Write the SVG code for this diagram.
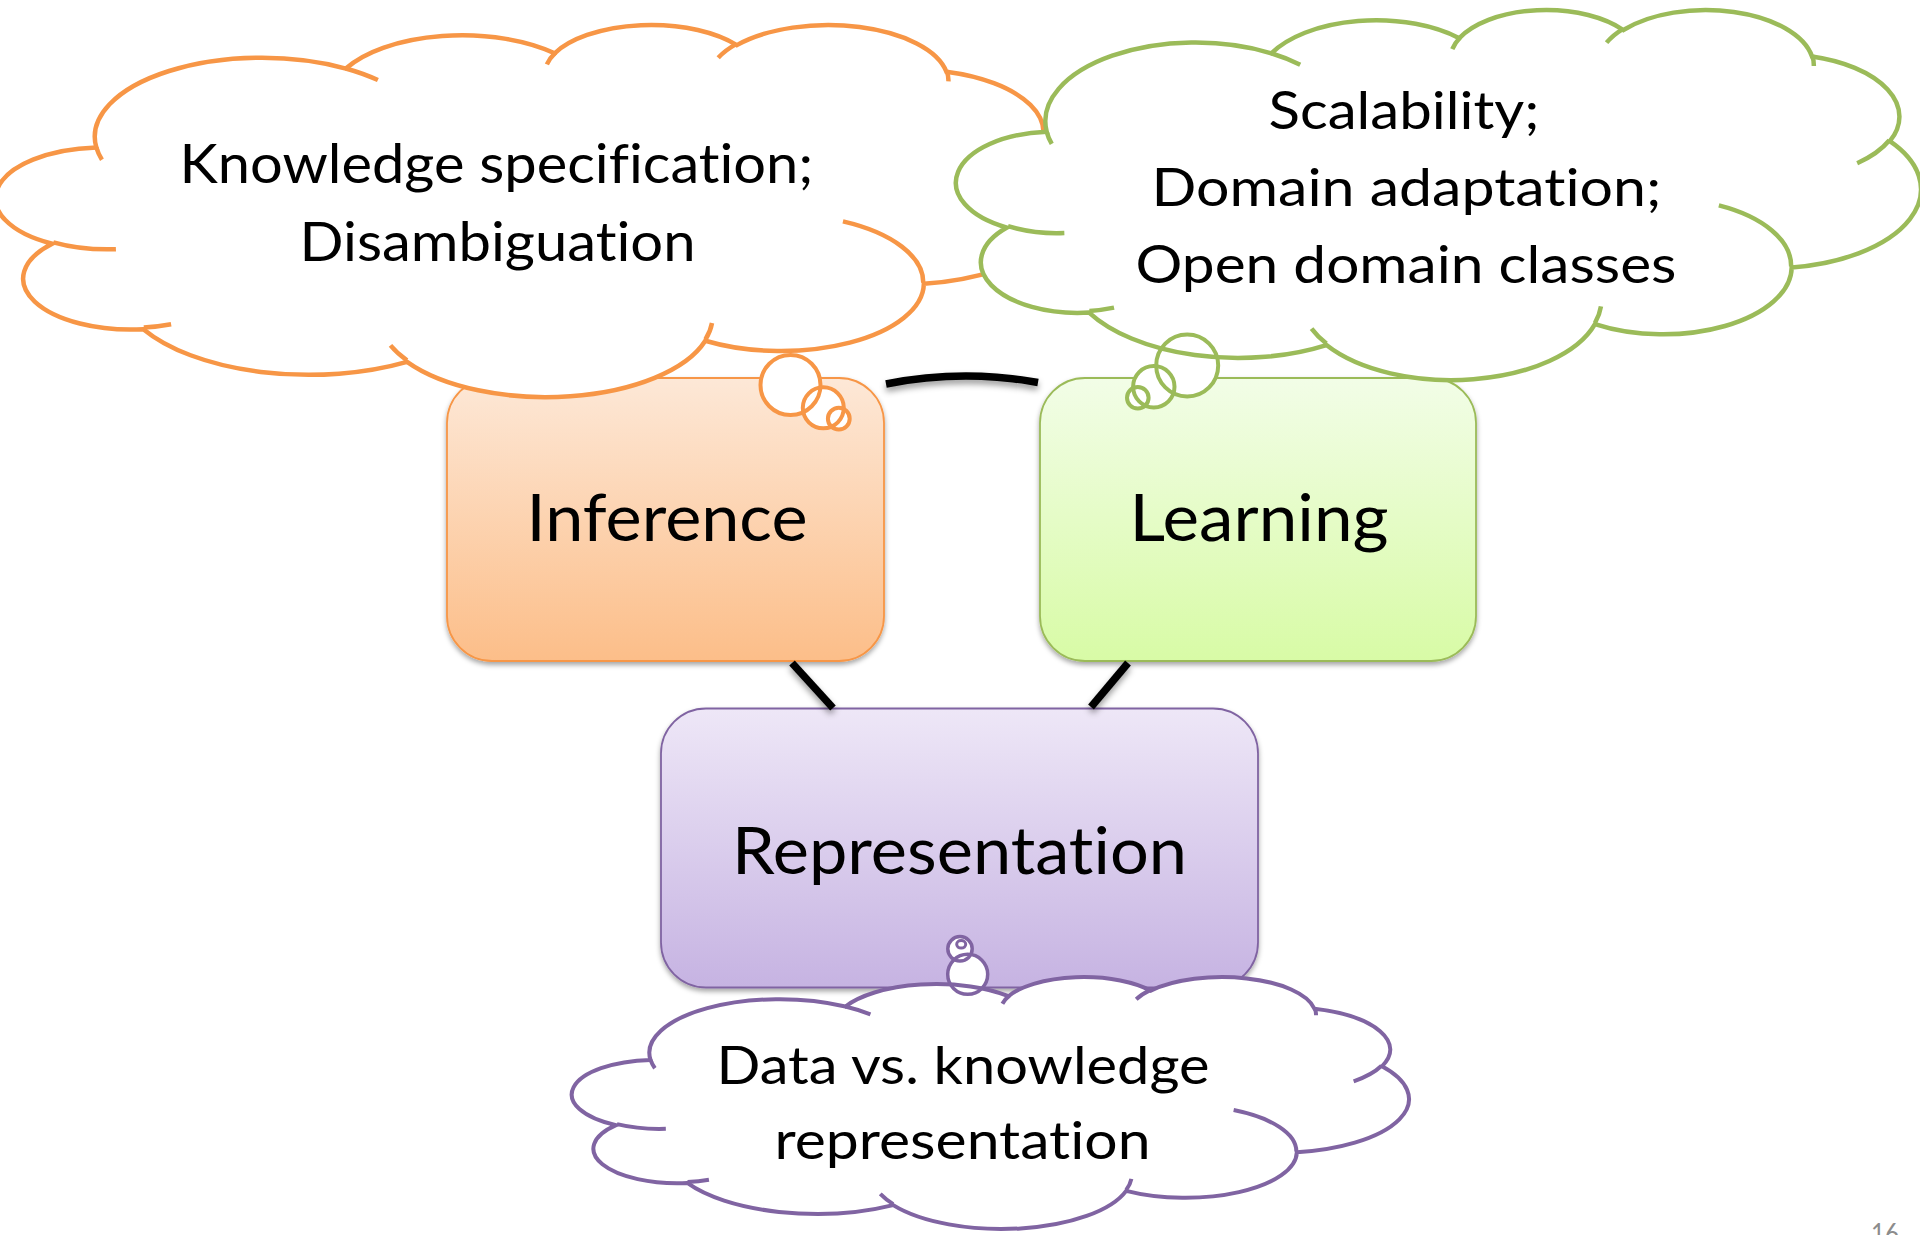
<svg xmlns="http://www.w3.org/2000/svg" xmlns:xlink="http://www.w3.org/1999/xlink" width="1920" height="1235" viewBox="0 0 1920 1235">
<defs>
<style>
.box{stroke-width:1.8}
.lbl{font-family:Lato,"Open Sans","Liberation Sans",sans-serif;font-weight:400;font-size:66px;fill:#000;text-anchor:middle;font-variant-ligatures:none}
.ctx{font-family:Lato,"Open Sans","Liberation Sans",sans-serif;font-weight:400;fill:#000;text-anchor:middle;font-variant-ligatures:none}
.conn{fill:none;stroke:#000;stroke-width:7.5;stroke-linecap:butt}
.cfill{fill:#fff;stroke:none}
.bfill{fill:#fff;stroke:none}
</style>
<linearGradient id="gInf" x1="0" y1="0" x2="0" y2="1"><stop offset="0" stop-color="#FDE8D7"/><stop offset="1" stop-color="#FCBE89"/></linearGradient>
<linearGradient id="gLrn" x1="0" y1="0" x2="0" y2="1"><stop offset="0" stop-color="#F2FDE7"/><stop offset="1" stop-color="#D8FBA6"/></linearGradient>
<linearGradient id="gRep" x1="0" y1="0" x2="0" y2="1"><stop offset="0" stop-color="#EEE7F7"/><stop offset="1" stop-color="#C6B3E2"/></linearGradient>
<filter id="shadow" x="-10%" y="-10%" width="120%" height="130%">
<feDropShadow dx="0" dy="3" stdDeviation="2.5" flood-color="#000" flood-opacity="0.35"/>
</filter>
<filter id="cshadow" x="-20%" y="-40%" width="140%" height="180%">
<feDropShadow dx="0" dy="4" stdDeviation="3" flood-color="#000" flood-opacity="0.4"/>
</filter>
<path id="cloudShape" vector-effect="non-scaling-stroke" d="M39.00,143.70 A67.53,91.90 0 0 1 140.05,52.02 A53.33,72.67 0 0 1 224.56,34.32 A43.65,59.45 0 0 1 298.33,24.81 A48.57,65.95 0 0 1 383.18,55.76 A53.33,72.73 0 0 1 418.18,154.60 A67.75,92.20 0 0 1 374.04,302.03 A57.85,78.67 0 0 1 285.56,368.14 A67.52,92.15 0 0 1 164.80,392.65 A77.20,105.43 0 0 1 58.05,354.70 A43.60,59.18 0 0 1 21.13,255.49 A43.45,59.45 0 0 1 39.00,143.70 Z"/>
<path id="cloudTails" vector-effect="non-scaling-stroke" d="M41.27,157.89 A67.53,91.90 0 0 1 39.00,143.70 M140.00,51.92 A67.53,91.90 0 0 1 153.00,65.40 M221.41,47.20 A43.65,59.45 0 0 1 225.00,33.30 M290.78,39.52 A48.57,65.95 0 0 1 298.20,23.40 M383.24,54.26 A48.57,65.95 0 0 1 384.00,66.90 M417.98,153.54 A53.33,72.73 0 0 1 403.50,180.30 M341.29,229.54 A57.85,78.67 0 0 1 373.80,300.90 M288.27,347.51 A67.52,92.15 0 0 1 285.60,366.60 M164.78,390.90 A67.52,92.15 0 0 1 158.10,373.50 M69.28,348.99 A43.60,59.18 0 0 1 58.20,352.80 M46.93,261.77 A43.45,59.45 0 0 1 21.60,253.80"/>
</defs>
<rect width="1920" height="1235" fill="#fff"/>

<g id="node-inference">
<rect class="box" x="447" y="378" width="437" height="283" rx="45" fill="url(#gInf)" stroke="#F79646" filter="url(#shadow)"/>
<text class="lbl" x="667" y="541" textLength="281" lengthAdjust="spacingAndGlyphs">Inference</text>
</g>
<g id="node-learning">
<rect class="box" x="1040" y="378" width="436" height="283" rx="45" fill="url(#gLrn)" stroke="#9BBB59" filter="url(#shadow)"/>
<text class="lbl" x="1259" y="540.5" textLength="259" lengthAdjust="spacingAndGlyphs">Learning</text>
</g>
<g id="node-representation">
<rect class="box" x="661" y="708.5" width="597" height="279" rx="45" fill="url(#gRep)" stroke="#8064A2" filter="url(#shadow)"/>
<text class="lbl" x="959.5" y="874" textLength="455" lengthAdjust="spacingAndGlyphs">Representation</text>
</g>

<g id="connectors" filter="url(#cshadow)">
<path class="conn" d="M886,384 Q962,369 1038,382.5"/>
<path class="conn" d="M792,663 L833,708"/>
<path class="conn" d="M1128,663 L1091,707"/>
</g>

<g id="cloud-inference">
<use xlink:href="#cloudShape" href="#cloudShape" transform="translate(0,23.75) scale(2.4699,0.8611)" class="cfill"/>
<circle class="bfill" cx="790.5" cy="385" r="30"/>
<circle class="bfill" cx="823.3" cy="407.8" r="20.5"/>
<circle class="bfill" cx="838.8" cy="418.7" r="10.9"/>
<g fill="none" stroke="#F79646" stroke-width="4.5">
<use xlink:href="#cloudShape" href="#cloudShape" transform="translate(0,23.75) scale(2.4699,0.8611)"/>
<use xlink:href="#cloudTails" href="#cloudTails" transform="translate(0,23.75) scale(2.4699,0.8611)"/>
<circle cx="790.5" cy="385" r="30" stroke-width="4"/>
<circle cx="823.3" cy="407.8" r="20.5" stroke-width="4"/>
<circle cx="838.8" cy="418.7" r="10.9" stroke-width="4"/>
</g>
<text class="ctx" font-size="55" x="496.5" y="183" textLength="634" lengthAdjust="spacingAndGlyphs">Knowledge specification;</text>
<text class="ctx" font-size="55" x="497.5" y="261" textLength="396" lengthAdjust="spacingAndGlyphs">Disambiguation</text>
</g>

<g id="cloud-learning">
<use xlink:href="#cloudShape" href="#cloudShape" transform="translate(960,8.76) scale(2.2235,0.8565)" class="cfill"/>
<circle class="bfill" cx="1187.2" cy="365.5" r="31"/>
<circle class="bfill" cx="1153.8" cy="386.8" r="20.7"/>
<circle class="bfill" cx="1137.8" cy="397.8" r="10.8"/>
<g fill="none" stroke="#9BBB59" stroke-width="4.5">
<use xlink:href="#cloudShape" href="#cloudShape" transform="translate(960,8.76) scale(2.2235,0.8565)"/>
<use xlink:href="#cloudTails" href="#cloudTails" transform="translate(960,8.76) scale(2.2235,0.8565)"/>
<circle cx="1187.2" cy="365.5" r="31" stroke-width="4"/>
<circle cx="1153.8" cy="386.8" r="20.7" stroke-width="4"/>
<circle cx="1137.8" cy="397.8" r="10.8" stroke-width="4"/>
</g>
<text class="ctx" font-size="53" x="1404" y="129" textLength="271" lengthAdjust="spacingAndGlyphs">Scalability;</text>
<text class="ctx" font-size="53" x="1406.5" y="205.7" textLength="510" lengthAdjust="spacingAndGlyphs">Domain adaptation;</text>
<text class="ctx" font-size="53" x="1406" y="282.7" textLength="541" lengthAdjust="spacingAndGlyphs">Open domain classes</text>
</g>

<g id="cloud-representation">
<use xlink:href="#cloudShape" href="#cloudShape" transform="translate(575.3,976.2) scale(1.929,0.583)" class="cfill"/>
<circle class="bfill" cx="967.7" cy="974.3" r="20"/>
<circle class="bfill" cx="960" cy="948.8" r="12.2"/>
<ellipse class="bfill" cx="961.2" cy="944.3" rx="4.5" ry="3.8"/>
<g fill="none" stroke="#8064A2" stroke-width="4">
<use xlink:href="#cloudShape" href="#cloudShape" transform="translate(575.3,976.2) scale(1.929,0.583)"/>
<use xlink:href="#cloudTails" href="#cloudTails" transform="translate(575.3,976.2) scale(1.929,0.583)"/>
<circle cx="967.7" cy="974.3" r="20" stroke-width="3.5"/>
<circle cx="960" cy="948.8" r="12.2" stroke-width="3.5"/>
<ellipse cx="961.2" cy="944.3" rx="4.5" ry="3.8" stroke-width="3"/>
</g>
<text class="ctx" font-size="51.5" x="963" y="1084" textLength="493" lengthAdjust="spacingAndGlyphs">Data vs. knowledge</text>
<text class="ctx" font-size="51.5" x="962.5" y="1159" textLength="376" lengthAdjust="spacingAndGlyphs">representation</text>
</g>

<text x="1885" y="1243" font-family="Lato,'Liberation Sans',sans-serif" font-size="26" fill="#8C8C8C" text-anchor="middle" textLength="28" lengthAdjust="spacingAndGlyphs">16</text>
</svg>
